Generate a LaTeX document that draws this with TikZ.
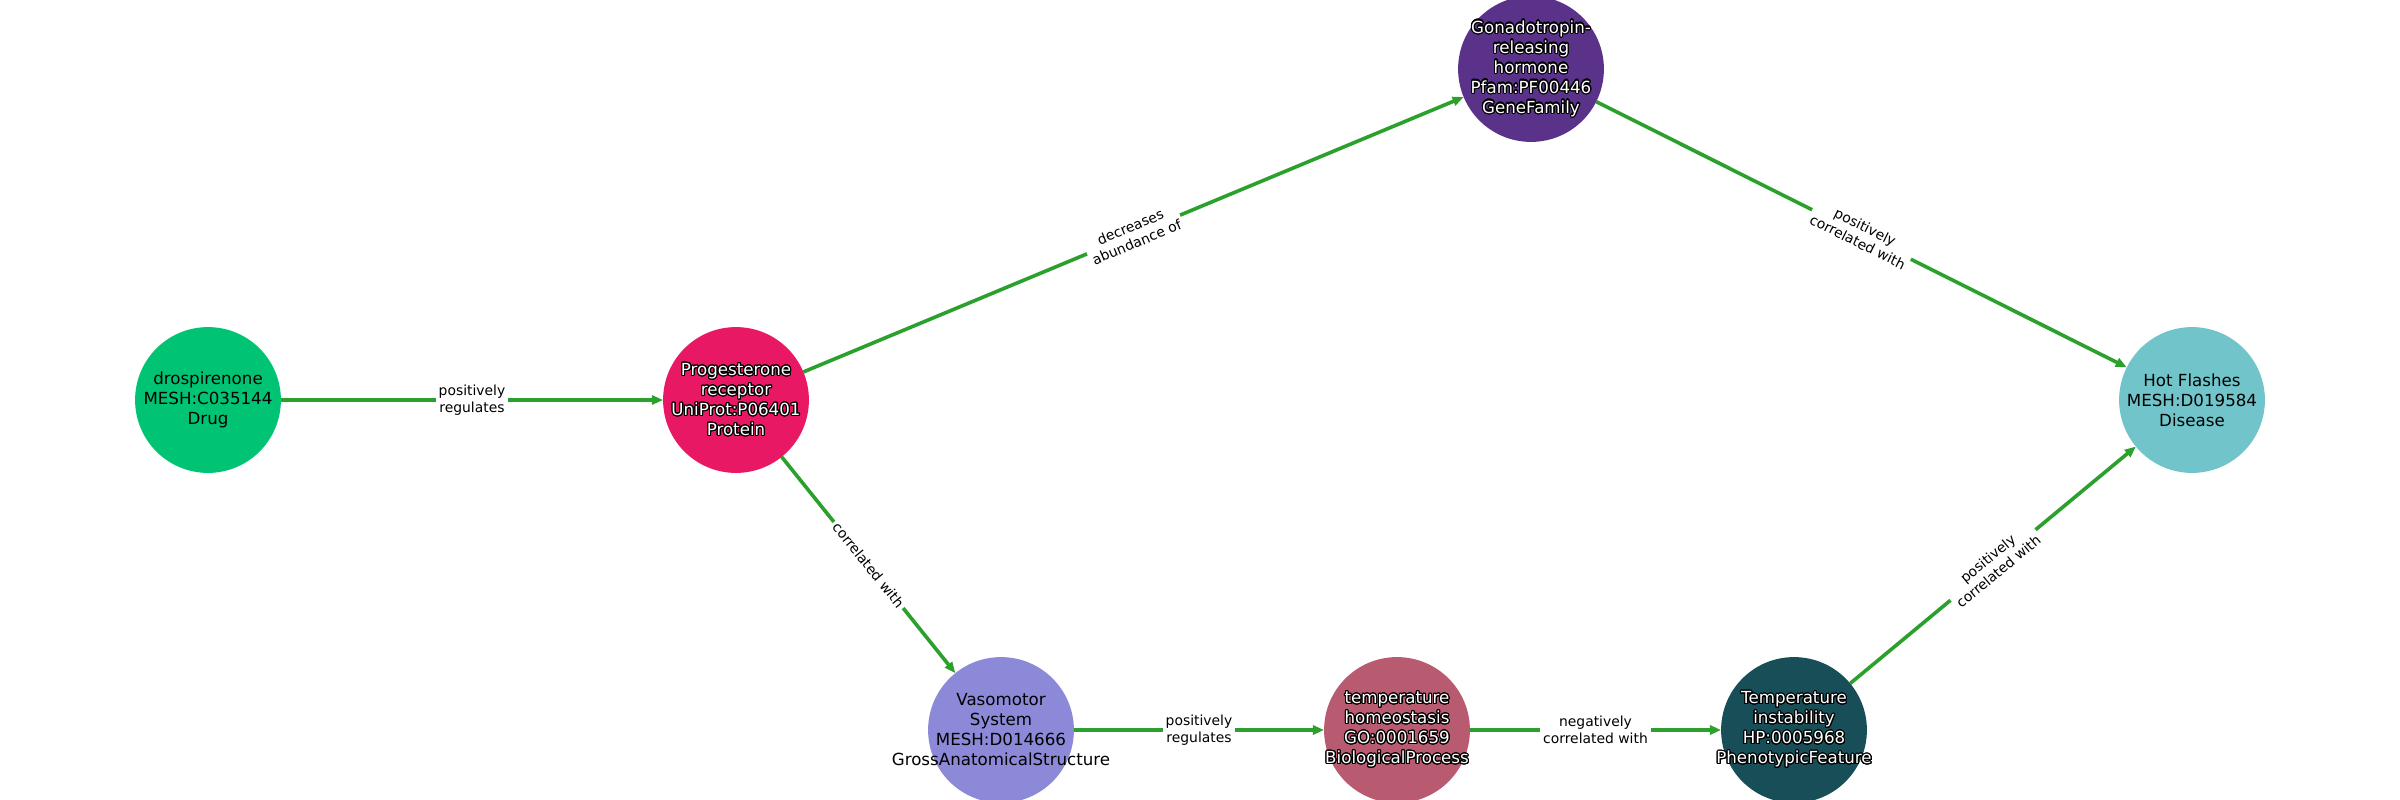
\documentclass[tikz,border=0pt]{standalone}
\usepackage{fontspec}
\setmainfont{DejaVu Sans}
\usepackage{contour}
\contourlength{0.8pt}
\contournumber{24}
\usetikzlibrary{arrows.meta}
\definecolor{drspc}{RGB}{0,196,115}
\definecolor{pgrc}{RGB}{232,24,100}
\definecolor{gnrhc}{RGB}{91,50,138}
\definecolor{hotfc}{RGB}{113,197,202}
\definecolor{vasoc}{RGB}{139,137,216}
\definecolor{temphc}{RGB}{184,90,112}
\definecolor{tempic}{RGB}{23,78,87}
\definecolor{relc}{RGB}{44,160,44}
\newcommand\halo[1]{\contour{black}{#1}}
\begin{document}
\begin{tikzpicture}[x=0.72pt,y=-0.72pt,
	ent/.style={circle,minimum size=105pt,inner sep=0pt,outer sep=0pt},
	entlbl/.style={align=center,font=\fontsize{12}{14.4}\selectfont},
	rel/.style={draw=relc,line width=2.6pt,-{Triangle[length=8pt,width=6.5pt]}},
	rellbl/.style={midway,sloped,fill=white,inner sep=2pt,align=center,
		font=\fontsize{10}{12}\selectfont}]
					\clip (0,0) rectangle (2400,800);
					\fill[white] (0,0) rectangle (2400,800);
					\foreach \x/\y/\c/\k/\n/\texn in {
						208/400/drspc/black/drsp/{drospirenone\\MESH:C035144\\Drug},
						736/400/pgrc/white/pgr/{\halo{Progesterone}\\\halo{receptor}\\\halo{UniProt:P06401}\\\halo{Protein}},
						1531/69/gnrhc/white/gnrh/{\halo{Gonadotropin-}\\\halo{releasing}\\\halo{hormone}\\\halo{Pfam:PF00446}\\\halo{GeneFamily}},
						2192/400/hotfc/black/hotf/{Hot Flashes\\MESH:D019584\\Disease},
						1001/730/vasoc/black/vaso/{Vasomotor\\System\\MESH:D014666\\GrossAnatomicalStructure},
						1397/730/temphc/white/temph/{\halo{temperature}\\\halo{homeostasis}\\\halo{GO:0001659}\\\halo{BiologicalProcess}},
						1794/730/tempic/white/tempi/{\halo{Temperature}\\\halo{instability}\\\halo{HP:0005968}\\\halo{PhenotypicFeature}}}
					\node[ent,fill=\c,label={[entlbl,text=\k]center:\texn}] (\n) at (\x,\y) {};
					\foreach \a/\b/\texn in {
						drsp/pgr/{positively\\regulates},
						pgr/gnrh/{decreases\\abundance of},
						pgr/vaso/{correlated with},
						gnrh/hotf/{positively\\correlated with},
						vaso/temph/{positively\\regulates},
						temph/tempi/{negatively\\correlated with},
						tempi/hotf/{positively\\correlated with}}
					\draw[rel] (\a) -- (\b) node[rellbl] {\texn};
					\end{tikzpicture}
\end{document}
